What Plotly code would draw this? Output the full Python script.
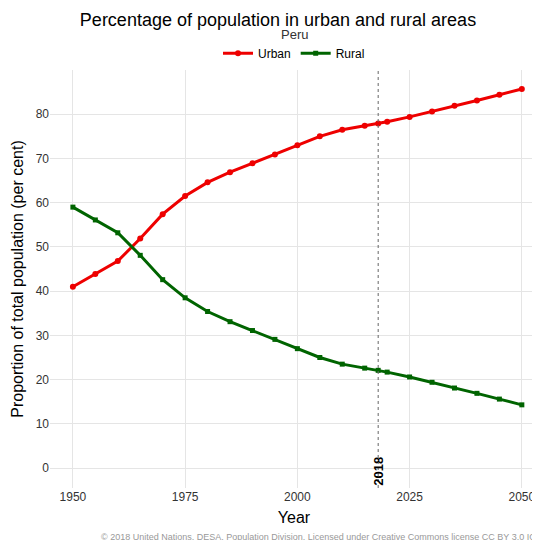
import plotly.graph_objects as go

years = [1950, 1955, 1960, 1965, 1970, 1975, 1980, 1985, 1990, 1995, 2000,
         2005, 2010, 2015, 2018, 2020, 2025, 2030, 2035, 2040, 2045, 2050]
urban = [41.0, 43.9, 46.8, 51.9, 57.4, 61.5, 64.6, 66.9, 68.9, 70.9, 73.0,
         75.0, 76.5, 77.4, 77.9, 78.3, 79.4, 80.6, 81.9, 83.1, 84.4, 85.7]
rural = [59.0, 56.1, 53.2, 48.1, 42.6, 38.5, 35.4, 33.1, 31.1, 29.1, 27.0,
         25.0, 23.5, 22.6, 22.1, 21.7, 20.6, 19.4, 18.1, 16.9, 15.6, 14.3]

fig = go.Figure()
fig.add_trace(go.Scatter(x=years, y=urban, mode='lines+markers', name='Urban',
    line=dict(color='#ee0000', width=3), marker=dict(size=6, symbol='circle')))
fig.add_trace(go.Scatter(x=years, y=rural, mode='lines+markers', name='Rural',
    line=dict(color='#006400', width=3), marker=dict(size=5, symbol='square')))

fig.add_vline(x=2018, line=dict(color='#666666', width=1, dash='dot'))

fig.update_layout(
    width=540, height=540,
    font=dict(family='Liberation Sans, Arial', color='#333333'),
    title=dict(text='Percentage of population in urban and rural areas', x=0.5, xanchor='center',
               y=0.978, yanchor='middle', font=dict(size=18, color='black')),
    annotations=[
        dict(text='Peru', x=0.5, y=1.084, xref='paper', yref='paper', yanchor='middle',
             showarrow=False, font=dict(size=13, color='#333333')),
        dict(x=2018, y=-4.5, xref='x', yref='y', text='<b>2018</b>', textangle=-90,
             showarrow=False, xanchor='center', yanchor='bottom', font=dict(size=13, color='black')),
        dict(text='© 2018 United Nations, DESA, Population Division. Licensed under Creative Commons license CC BY 3.0 IGO.',
             x=1.02, y=-0.117, xref='paper', yref='paper', xanchor='right', yanchor='middle', showarrow=False,
             font=dict(size=9, color='#999999'))],
    legend=dict(orientation='h', x=0.5, xanchor='center', y=1.04, yanchor='middle',
                font=dict(size=12, color='black'), itemwidth=30),
    showlegend=True,
    plot_bgcolor='white', paper_bgcolor='white',
    margin=dict(l=42, r=10, t=62, b=60, autoexpand=False),
    xaxis=dict(title=dict(text='Year', font=dict(size=16, color='black'), standoff=8),
               range=[1944.9, 2053.6], tickvals=[1950, 1975, 2000, 2025, 2050],
               showgrid=True, gridcolor='#e5e5e5', zeroline=False, tickfont=dict(size=12),
               automargin=False),
    yaxis=dict(title=dict(text='Proportion of total population (per cent)', font=dict(size=16, color='black'), standoff=8),
               range=[-4.5, 90], tickvals=[0, 10, 20, 30, 40, 50, 60, 70, 80],
               showgrid=True, gridcolor='#e5e5e5', zeroline=False, tickfont=dict(size=12),
               automargin=False),
)
fig.write_html("out.html")
